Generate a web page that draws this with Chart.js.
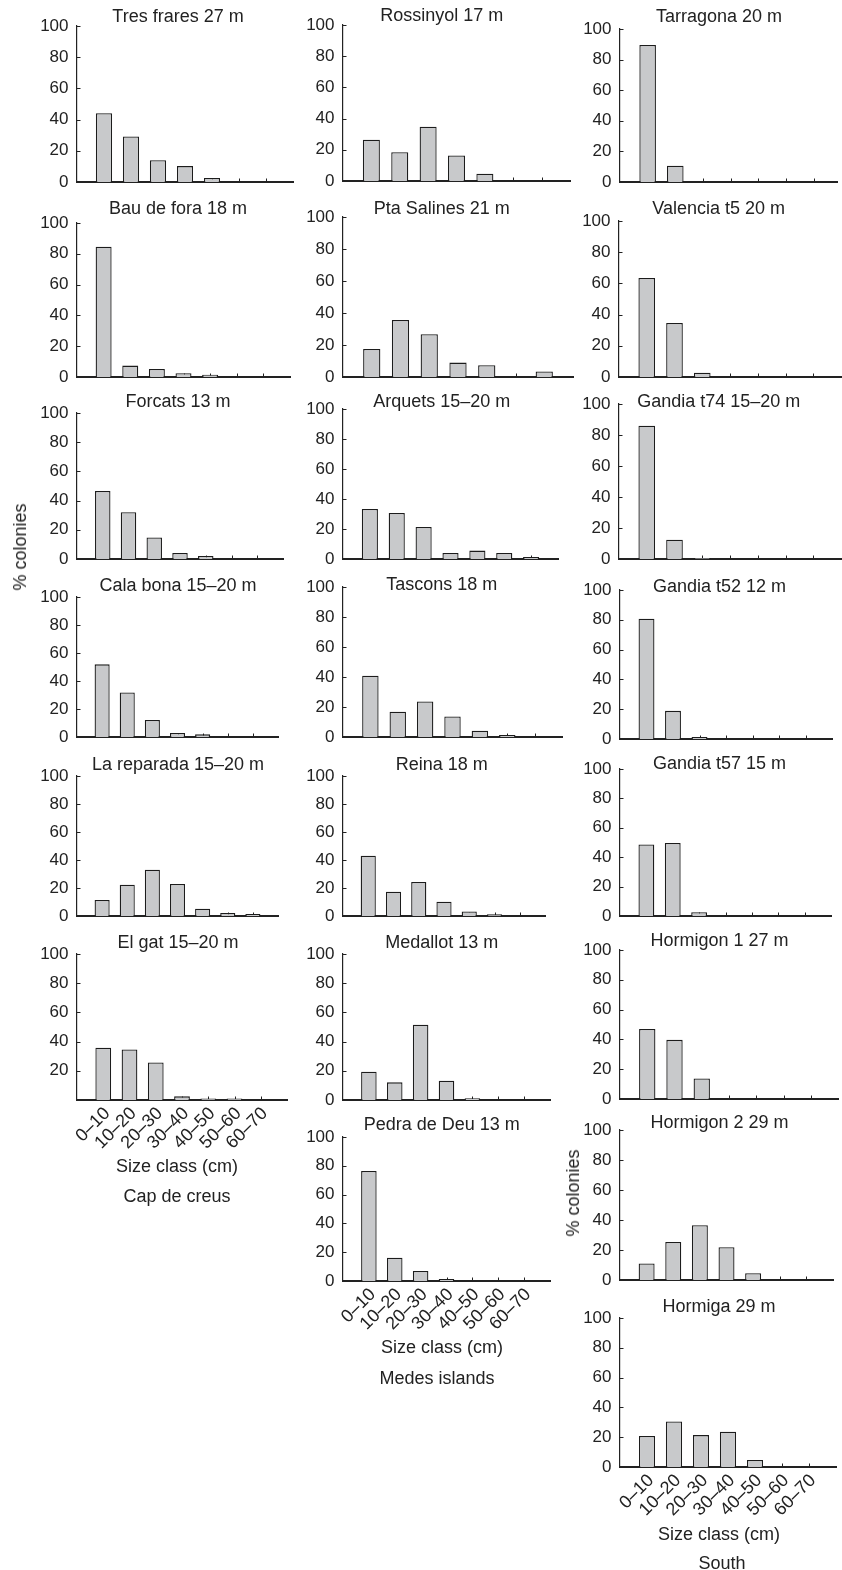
<!DOCTYPE html>
<html><head><meta charset="utf-8">
<script src="https://cdn.jsdelivr.net/npm/chart.js@4.4.1/dist/chart.umd.min.js"></script>
<style>
html,body{margin:0;padding:0;background:#fff;}
body{width:842px;height:1570px;overflow:hidden;position:relative;font-family:'Liberation Sans',Arial,sans-serif;color:#222;}
canvas{position:absolute;}
.lbl{position:absolute;font-size:18px;white-space:nowrap;line-height:1;transform:translate(-50%,-50%);}
.rot{transform:translate(-50%,-50%) rotate(-90deg);}
</style></head><body>
<script>
// ---- data ----
const sizeClasses = ['0–10','10–20','20–30','30–40','40–50','50–60','60–70'];
const yTickValues = [0, 20, 40, 60, 80, 100];

// Cap de creus
const tresFrares  = [44.1, 29.2, 13.9, 10.2, 2.6, 0, 0];
const bauDeFora   = [84.6, 7.4, 5.2, 2.4, 1.5, 0, 0];
const forcats     = [46.6, 32.0, 14.8, 4.1, 2.1, 0, 0];
const calaBona    = [51.9, 31.8, 12.2, 2.9, 1.9, 0, 0];
const laReparada  = [11.4, 22.4, 33.1, 22.9, 5.2, 2.1, 1.4];
const elGat       = [35.8, 34.6, 25.7, 2.5, 1.0, 1.0, 0];
// Medes islands
const rossinyol   = [26.5, 18.5, 34.8, 16.4, 4.7, 0, 0];
const ptaSalines  = [17.5, 35.6, 26.7, 9.0, 7.3, 0, 3.5];
const arquets     = [33.3, 30.7, 21.3, 4.0, 5.6, 4.0, 1.3];
const tascons     = [40.9, 16.8, 23.7, 13.7, 4.2, 1.3, 0];
const reina       = [43.1, 17.4, 24.3, 10.2, 3.3, 1.2, 0];
const medallot    = [19.4, 12.1, 51.6, 13.2, 1.2, 0, 0];
const pedraDeDeu  = [76.4, 16.2, 6.9, 1.4, 0, 0, 0];
// South
const tarragona   = [89.5, 10.7, 0, 0, 0, 0, 0];
const valenciaT5  = [63.5, 34.6, 2.8, 0, 0, 0, 0];
const gandiaT74   = [86.0, 12.4, 0.7, 0, 0, 0, 0];
const gandiaT52   = [80.7, 18.9, 1.4, 0, 0, 0, 0];
const gandiaT57   = [48.6, 49.7, 2.6, 0, 0, 0, 0];
const hormigon1   = [47.0, 39.7, 13.8, 0, 0, 0, 0];
const hormigon2   = [11.0, 25.3, 36.5, 21.9, 4.5, 0, 0];
const hormiga     = [20.8, 30.6, 21.4, 23.7, 4.7, 0, 0];

const siteNames = [
  'Tres frares 27 m','Bau de fora 18 m','Forcats 13 m','Cala bona 15–20 m','La reparada 15–20 m','El gat 15–20 m',
  'Rossinyol 17 m','Pta Salines 21 m','Arquets 15–20 m','Tascons 18 m','Reina 18 m','Medallot 13 m','Pedra de Deu 13 m',
  'Tarragona 20 m','Valencia t5 20 m','Gandia t74 15–20 m','Gandia t52 12 m','Gandia t57 15 m','Hormigon 1 27 m','Hormigon 2 29 m','Hormiga 29 m'
];
const siteValues = [
  tresFrares, bauDeFora, forcats, calaBona, laReparada, elGat,
  rossinyol, ptaSalines, arquets, tascons, reina, medallot, pedraDeDeu,
  tarragona, valenciaT5, gandiaT74, gandiaT52, gandiaT57, hormigon1, hormigon2, hormiga
];

// ---- layout (page pixels) ----
const colTitleX = [178, 442, 719];
const panelLayout = [
  {col:0, ax:77,  xEnd:293, top:25.5,  bot:181.7, ty:15,    xMax:8},
  {col:0, ax:77,  xEnd:290, top:222.7, bot:376.7, ty:207,   xMax:8},
  {col:0, ax:77,  xEnd:283, top:413,   bot:559,   ty:400.7, xMax:8},
  {col:0, ax:77,  xEnd:278, top:597.3, bot:737.7, ty:585,   xMax:8},
  {col:0, ax:77,  xEnd:278, top:775.7, bot:915.7, ty:762.7, xMax:8},
  {col:0, ax:77,  xEnd:287, top:954,   bot:1100,  ty:941,   xMax:8, labels:true, hideZero:true},
  {col:1, ax:343.3, xEnd:570, top:25.3,  bot:181.7, ty:15,    xMax:8},
  {col:1, ax:343.3, xEnd:573, top:216.7, bot:376.7, ty:207.3, xMax:8},
  {col:1, ax:343.3, xEnd:558, top:409.3, bot:559.3, ty:400.7, xMax:8},
  {col:1, ax:343.3, xEnd:562, top:587.3, bot:737.7, ty:583.3, xMax:8},
  {col:1, ax:343.3, xEnd:545, top:775.7, bot:915.7, ty:762.7, xMax:8},
  {col:1, ax:343.3, xEnd:550, top:954,   bot:1100,  ty:941.7, xMax:8},
  {col:1, ax:343.3, xEnd:550, top:1137.3,bot:1281.7,ty:1124,  xMax:8, labels:true},
  {col:2, ax:620, xEnd:836.7, top:29,    bot:181.7, ty:15,    xMax:7.85},
  {col:2, ax:619.3, xEnd:841.5, top:220.7, bot:376.7, ty:207.3, xMax:8},
  {col:2, ax:619.3, xEnd:841.5, top:404,   bot:559.3, ty:400.7, xMax:8},
  {col:2, ax:619.5, xEnd:831, top:590,   bot:738.5, ty:585,   xMax:8},
  {col:2, ax:619.5, xEnd:830, top:768.7, bot:915.8, ty:762.4, xMax:8},
  {col:2, ax:619.5, xEnd:837.7, top:950.3, bot:1099.5, ty:940.2, xMax:8},
  {col:2, ax:619.5, xEnd:832, top:1130,  bot:1279.5, ty:1121.8, xMax:8},
  {col:2, ax:620, xEnd:836, top:1318.3, bot:1467.7, ty:1306,  xMax:8, labels:true}
];

const FONT = "'Liberation Sans', Arial, sans-serif";
const INK = '#222';

const panelDecor = {
  id: 'panelDecor',
  beforeDatasetsDraw(chart) {
    const ctx = chart.ctx, xs = chart.scales.x, ys = chart.scales.y;
    ctx.save();
    ctx.strokeStyle = INK; ctx.lineWidth = 1;
    ctx.beginPath();
    ys.ticks.forEach(t => { const py = Math.round(ys.getPixelForValue(t.value)) + 0.5; ctx.moveTo(xs.left, py); ctx.lineTo(xs.left + 3.5, py); });
    xs.ticks.forEach(t => { const px = Math.round(xs.getPixelForValue(t.value)) + 0.5; ctx.moveTo(px, ys.bottom); ctx.lineTo(px, ys.bottom - 3.5); });
    ctx.stroke();
    ctx.restore();
  },
  afterDraw(chart, args, opts) {
    const ctx = chart.ctx;
    ctx.save();
    ctx.fillStyle = INK;
    ctx.font = '18px ' + FONT;
    ctx.textAlign = 'center';
    ctx.textBaseline = 'alphabetic';
    ctx.fillText(opts.text, opts.x, opts.y + 6.5);
    ctx.restore();
  }
};

const PAD_TOP = 30, LEFT_W = 60, RIGHT_PAD = 6;
panelLayout.forEach((L, i) => {
  const values = siteValues[i];
  const hx = L.labels ? 70 : 6;
  const cLeft = L.ax - LEFT_W;
  const cTop = L.top - PAD_TOP;
  const w = Math.round(L.xEnd - L.ax + LEFT_W + RIGHT_PAD);
  const h = Math.round(L.bot - L.top + PAD_TOP + hx);
  const cv = document.createElement('canvas');
  cv.width = w; cv.height = h;
  cv.style.left = cLeft + 'px'; cv.style.top = cTop + 'px';
  cv.style.width = w + 'px'; cv.style.height = h + 'px';
  document.body.appendChild(cv);
  new Chart(cv, {
    type: 'bar',
    data: {
      datasets: [{
        data: values.map((v, k) => ({x: k + 1, y: v})),
        backgroundColor: '#c8c9cb',
        borderColor: '#1c1c1c',
        borderWidth: 1.3,
        borderSkipped: 'bottom',
        barPercentage: 0.6,
        categoryPercentage: 1
      }]
    },
    options: {
      responsive: false, animation: false, devicePixelRatio: 1,
      layout: {autoPadding: false, padding: {top: PAD_TOP, left: 0, right: RIGHT_PAD, bottom: 0}},
      plugins: {legend: {display: false}, tooltip: {enabled: false}, title: {display: false},
        panelDecor: {text: siteNames[i], x: colTitleX[L.col] - cLeft, y: L.ty - cTop}},
      scales: {
        x: {
          type: 'linear', min: 0, max: L.xMax, offset: false, z: 1,
          grid: {display: false, drawTicks: false, offset: false},
          border: {display: true, color: INK, width: 2},
          afterBuildTicks: s => { s.ticks = sizeClasses.map((_, k) => ({value: k + 1})); },
          afterFit: s => { s.height = hx; s.paddingLeft = 0; s.paddingRight = 0; s.paddingTop = 0; s.paddingBottom = 0; },
          ticks: {
            display: !!L.labels, autoSkip: false, minRotation: 45, maxRotation: 45, padding: 3, labelOffset: 4,
            color: INK, font: {family: FONT, size: 18},
            callback: v => sizeClasses[v - 1]
          }
        },
        y: {
          type: 'linear', min: 0, max: 100,
          grid: {display: false, drawTicks: false},
          border: {display: true, color: INK, width: 1.2},
          afterBuildTicks: s => { s.ticks = yTickValues.map(v => ({value: v})); },
          afterFit: s => { s.width = LEFT_W; s.paddingTop = 0; s.paddingBottom = 0; s.paddingLeft = 0; s.paddingRight = 0; },
          ticks: {
            padding: 8.5, color: INK, font: {family: FONT, size: 17},
            callback: v => (v === 0 && L.hideZero) ? '' : String(v)
          }
        }
      }
    },
    plugins: [panelDecor]
  });
});

// ---- free text ----
const texts = [
  {t:'% colonies', x:20, y:547, rot:true},
  {t:'% colonies', x:573, y:1193, rot:true},
  {t:'Size class (cm)', x:177, y:1166},
  {t:'Cap de creus', x:177, y:1196},
  {t:'Size class (cm)', x:442, y:1347},
  {t:'Medes islands', x:437, y:1378},
  {t:'Size class (cm)', x:719, y:1534},
  {t:'South', x:722, y:1563}
];
texts.forEach(o => {
  const d = document.createElement('div');
  d.className = 'lbl' + (o.rot ? ' rot' : '');
  d.textContent = o.t;
  d.style.left = o.x + 'px'; d.style.top = o.y + 'px';
  document.body.appendChild(d);
});
</script>
</body></html>
